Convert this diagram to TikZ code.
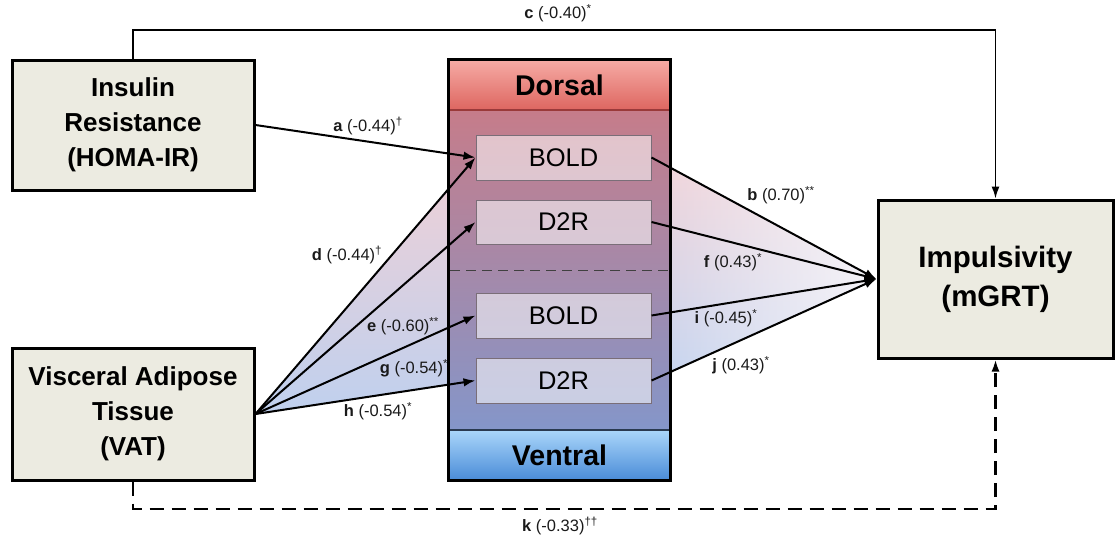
\documentclass[tikz,border=0pt]{standalone}
\usepackage{fontspec}
\setmainfont{Liberation Sans}
\usetikzlibrary{arrows.meta,fadings}
\definecolor{boxfill}{HTML}{ECEBE1}
\definecolor{colTop}{HTML}{D07880}
\definecolor{colBot}{HTML}{7A9AD3}
\definecolor{dorTop}{HTML}{F6ABA5}
\definecolor{dorBot}{HTML}{DD6660}
\definecolor{dorLine}{HTML}{9A3A3A}
\definecolor{venTop}{HTML}{AAD6FA}
\definecolor{venBot}{HTML}{4A8CD8}
\definecolor{venLine}{HTML}{2A3A50}
\definecolor{innerline}{HTML}{7A6E78}
\definecolor{triPink}{HTML}{F0D0D6}
\definecolor{triBlue}{HTML}{BFD0EE}
\definecolor{labcol}{HTML}{1A1A1A}
\tikzfading[name=fadeapex, left color=transparent!5, right color=transparent!75]
\pgfdeclarelayer{bg}
\pgfsetlayers{bg,main}
\begin{document}
\begin{tikzpicture}[x=1pt,y=-1pt,
  var/.style={draw=black, line width=3pt, fill=boxfill, align=center, inner sep=0pt,
              font=\fontsize{26}{35}\selectfont\bfseries},
  inbox/.style={draw=innerline, line width=1pt, fill=white, fill opacity=0.55, text opacity=1,
                minimum width=175pt, inner sep=0pt, font=\fontsize{25.5}{30}\selectfont},
  hdr/.style={minimum width=221pt, minimum height=50pt, inner sep=0pt,
              font=\fontsize{28.5}{32}\selectfont\bfseries},
  conn/.style={line width=2pt, -{Latex[length=12pt,width=8.5pt]}},
  lab/.style={font=\fontsize{16.5}{19}\selectfont, inner sep=0pt, text=labcol}
]
\useasboundingbox (0,0) rectangle (1115,539);

% variable boxes
\node[var, minimum width=242pt, minimum height=130pt] (ins) at (133,125) {Insulin\\Resistance\\(HOMA-IR)};
\node[var, minimum width=242pt, minimum height=132pt] (vat) at (133,414) {Visceral Adipose\\Tissue\\(VAT)};
\node[var, minimum width=235pt, minimum height=158pt, font=\fontsize{29.5}{39}\selectfont\bfseries] (imp) at (995.5,279) {Impulsivity\\(mGRT)};

% brain column
\node[minimum width=221pt, minimum height=420pt, inner sep=0pt, top color=colTop, bottom color=colBot] (col) at (559.5,270) {};
\node[hdr, top color=dorTop, bottom color=dorBot] (dor) at (559.5,85) {Dorsal};
\node[hdr, top color=venTop, bottom color=venBot] (ven) at (559.5,455) {Ventral};
\draw[line width=1.5pt, dorLine] (dor.south west) -- (dor.south east);
\draw[line width=1.5pt, venLine] (ven.north west) -- (ven.north east);
\coordinate (dl) at (450,270);
\coordinate (dr) at (669,270);
\draw[line width=1pt, black!75, dash pattern=on 10pt off 6pt] (dl) -- (dr);
\draw[line width=3pt] (col.north west) rectangle (col.south east);

\node[inbox, minimum height=45pt] (b1) at (563.5,157.5) {BOLD};
\node[inbox, minimum height=44pt] (r1) at (563.5,222) {D2R};
\node[inbox, minimum height=45pt] (b2) at (563.5,315.5) {BOLD};
\node[inbox, minimum height=45pt] (r2) at (563.5,380.5) {D2R};

% background fans
\begin{pgfonlayer}{bg}
\shade[top color=triPink, bottom color=triBlue] (vat.east) -- (b1.west) -- (r2.west) -- cycle;
\shade[top color=triPink, bottom color=triBlue, path fading=fadeapex] (b1.east) -- (r2.east) -- (imp.west) -- cycle;
\end{pgfonlayer}

% connectors
\draw[conn] (ins.east) -- (b1.west);
\draw[conn] (vat.east) -- (b1.west);
\draw[conn] (vat.east) -- (r1.west);
\draw[conn] (vat.east) -- (b2.west);
\draw[conn] (vat.east) -- (r2.west);
\draw[conn] (b1.east) -- (imp.west);
\draw[conn] (r1.east) -- (imp.west);
\draw[conn] (b2.east) -- (imp.west);
\draw[conn] (r2.east) -- (imp.west);

\coordinate (ctop) at (133,30);
\draw[line width=1.6pt, -{Latex[length=12pt,width=8pt]}] (ins.north) -- (ctop) -| (imp.north);
\coordinate (kbot) at (133,509);
\draw[line width=2.2pt, dash pattern=on 14pt off 8pt, -{Latex[length=12pt,width=8pt]}] (vat.south) -- (kbot) -| (imp.south);

% labels
\node[lab] (la) at (368,126) {\textbf{a} (-0.44)\textsuperscript{†}};
\node[lab] (lb) at (781,195) {\textbf{b} (0.70)\textsuperscript{**}};
\node[lab] (lc) at (558,13) {\textbf{c} (-0.40)\textsuperscript{*}};
\node[lab] (ld) at (347,255) {\textbf{d} (-0.44)\textsuperscript{†}};
\node[lab] (le) at (403,326) {\textbf{e} (-0.60)\textsuperscript{**}};
\node[lab] (lf) at (733,262) {\textbf{f} (0.43)\textsuperscript{*}};
\node[lab] (lg) at (414,368) {\textbf{g} (-0.54)\textsuperscript{*}};
\node[lab] (lh) at (378,411) {\textbf{h} (-0.54)\textsuperscript{*}};
\node[lab] (li) at (726,318) {\textbf{i} (-0.45)\textsuperscript{*}};
\node[lab] (lj) at (741,365) {\textbf{j} (0.43)\textsuperscript{*}};
\node[lab] (lk) at (560,526) {\textbf{k} (-0.33)\textsuperscript{††}};
\end{tikzpicture}
\end{document}
